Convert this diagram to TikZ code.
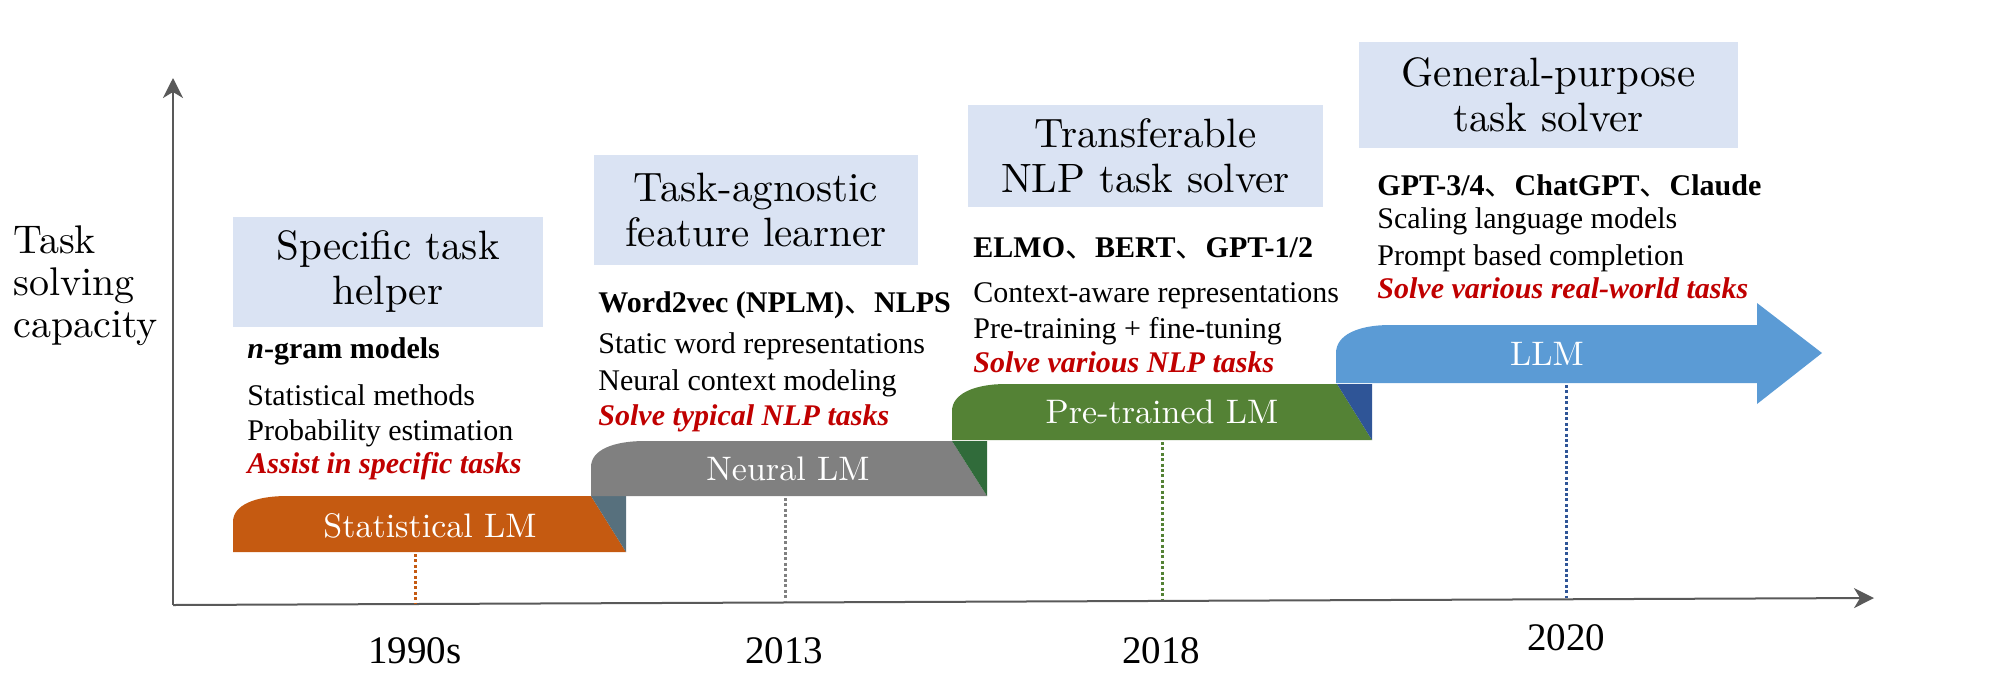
\documentclass[tikz,border=0pt]{standalone}
\usepackage{fontspec}
\setmainfont{lmroman10-regular.otf}[BoldFont=lmroman10-bold.otf, ItalicFont=lmroman10-italic.otf]
\newfontfamily\tms{Liberation Serif}
\newfontfamily\cjk{Noto Sans CJK SC}
\usetikzlibrary{arrows.meta}
\definecolor{orangeb}{HTML}{C55A11}
\definecolor{slateb}{HTML}{57707D}
\definecolor{grayb}{HTML}{808080}
\definecolor{dgreen}{HTML}{306B3A}
\definecolor{greenb}{HTML}{548235}
\definecolor{dblue}{HTML}{2F5597}
\definecolor{blueb}{HTML}{5B9BD5}
\definecolor{titlefill}{HTML}{DAE3F3}
\definecolor{redt}{HTML}{C00000}
\definecolor{axisc}{HTML}{595959}
\newcommand{\dun}{{\cjk\mdseries\upshape 、}}
\tikzset{
  axisline/.style={draw=axisc, line width=1pt, -{Stealth[length=10pt,width=10pt,inset=3pt]}},
  titlebox/.style={fill=titlefill, inner sep=0pt, align=center, font=\fontsize{20.5}{22.5}\selectfont},
  barlabel/.style={text=white, inner sep=0pt, font=\fontsize{17}{20}\selectfont},
  body/.style={anchor=base west, inner sep=0pt, font=\tms\fontsize{15}{18}\selectfont},
  bodyb/.style={body, font=\tms\bfseries\fontsize{15}{18}\selectfont},
  bodyr/.style={body, text=redt, font=\tms\bfseries\itshape\fontsize{15}{18}\selectfont},
  ylab/.style={anchor=base west, inner sep=0pt, font=\fontsize{20}{22}\selectfont},
  year/.style={anchor=base, inner sep=0pt, font=\tms\fontsize{19.5}{22}\selectfont},
  dotline/.style={line width=1.5pt, dash pattern=on 1.5pt off 1.2pt}
}
\begin{document}
\begin{tikzpicture}[x=0.5pt,y=-0.5pt]
\path[use as bounding box] (0,0) rectangle (2016,691);

% axes
\coordinate (O) at (173,605);
\coordinate (Ytop) at (173,78);
\coordinate (Xend) at (1874,598);
\draw[axisline] (O) -- (Ytop);
\draw[axisline] (O) -- (Xend);

% y label
\node[ylab] (yl1) at (13,253) {Task};
\node[ylab] (yl2) at (13,295) {solving};
\node[ylab] (yl3) at (13,337) {capacity};

% bars
\fill[orangeb] (233,552) -- (233,522) .. controls (233,505) and (255,496) .. (287,496) -- (591,496) -- (626,552) -- cycle;
\fill[slateb] (591,496) -- (626,496) -- (626,552) -- cycle;
\fill[grayb] (591,496) -- (591,467) .. controls (591,450) and (613,441) .. (645,441) -- (952,441) -- (987,496) -- cycle;
\fill[dgreen] (952,441) -- (987,441) -- (987,496) -- cycle;
\fill[greenb] (952,440) -- (952,411) .. controls (952,394) and (974,384) .. (1006,384) -- (1337,384) -- (1372,440) -- cycle;
\fill[dblue] (1337,384) -- (1372,384) -- (1372,440) -- cycle;
\fill[blueb] (1336,383) -- (1336,353) .. controls (1336,335) and (1358,325) .. (1390,325) -- (1757,325) -- (1757,303) -- (1822,353) -- (1757,404) -- (1757,383) -- cycle;

\node[barlabel] (l1) at (430,526) {Statistical LM};
\node[barlabel] (l2) at (788,469) {Neural LM};
\node[barlabel] (l3) at (1162,412) {Pre-trained LM};
\node[barlabel] (l4) at (1547,354) {LLM};

% dotted drop lines
\coordinate (d1a) at (415,554); \coordinate (d1b) at (415,603);
\coordinate (d2a) at (785,498); \coordinate (d2b) at (785,602);
\coordinate (d3a) at (1162,442); \coordinate (d3b) at (1162,600);
\coordinate (d4a) at (1566,385); \coordinate (d4b) at (1566,598);
\draw[dotline, draw=orangeb] (d1a) -- (d1b);
\draw[dotline, draw=grayb] (d2a) -- (d2b);
\draw[dotline, draw=greenb] (d3a) -- (d3b);
\draw[dotline, draw=dblue] (d4a) -- (d4b);

% years
\node[year] (y1) at (415,663) {1990s};
\node[year] (y2) at (784,663) {2013};
\node[year] (y3) at (1161,663) {2018};
\node[year] (y4) at (1566,650) {2020};

% title boxes
\node[titlebox, minimum width=155pt, minimum height=55pt] (t1) at (388,272) {Specific task\\helper};
\node[titlebox, minimum width=162pt, minimum height=55pt] (t2) at (756,210) {Task-agnostic\\feature learner};
\node[titlebox, minimum width=177.5pt, minimum height=51pt] (t3) at (1145.5,156) {Transferable\\NLP task solver};
\node[titlebox, minimum width=189.5pt, minimum height=53pt] (t4) at (1548.5,95) {General-purpose\\task solver};

% block 1
\node[bodyb] (a1) at (247,358) {\textit{n}-gram models};
\node[body] (a2) at (247,405) {Statistical methods};
\node[body] (a3) at (247,440) {Probability estimation};
\node[bodyr] (a4) at (247,473) {Assist in specific tasks};
% block 2
\node[bodyb] (b1) at (598,312) {Word2vec (NPLM)\dun NLPS};
\node[body] (b2) at (598,353) {Static word representations};
\node[body] (b3) at (598,390) {Neural context modeling};
\node[bodyr] (b4) at (598,425) {Solve typical NLP tasks};
% block 3
\node[bodyb] (c1) at (973,257) {ELMO\dun BERT\dun GPT-1/2};
\node[body] (c2) at (973,302) {Context-aware representations};
\node[body] (c3) at (973,338) {Pre-training + fine-tuning};
\node[bodyr] (c4) at (973,372) {Solve various NLP tasks};
% block 4
\node[bodyb] (e1) at (1377,195) {GPT-3/4\dun ChatGPT\dun Claude};
\node[body] (e2) at (1377,228) {Scaling language models};
\node[body] (e3) at (1377,265) {Prompt based completion};
\node[bodyr] (e4) at (1377,298) {Solve various real-world tasks};
\end{tikzpicture}
\end{document}
